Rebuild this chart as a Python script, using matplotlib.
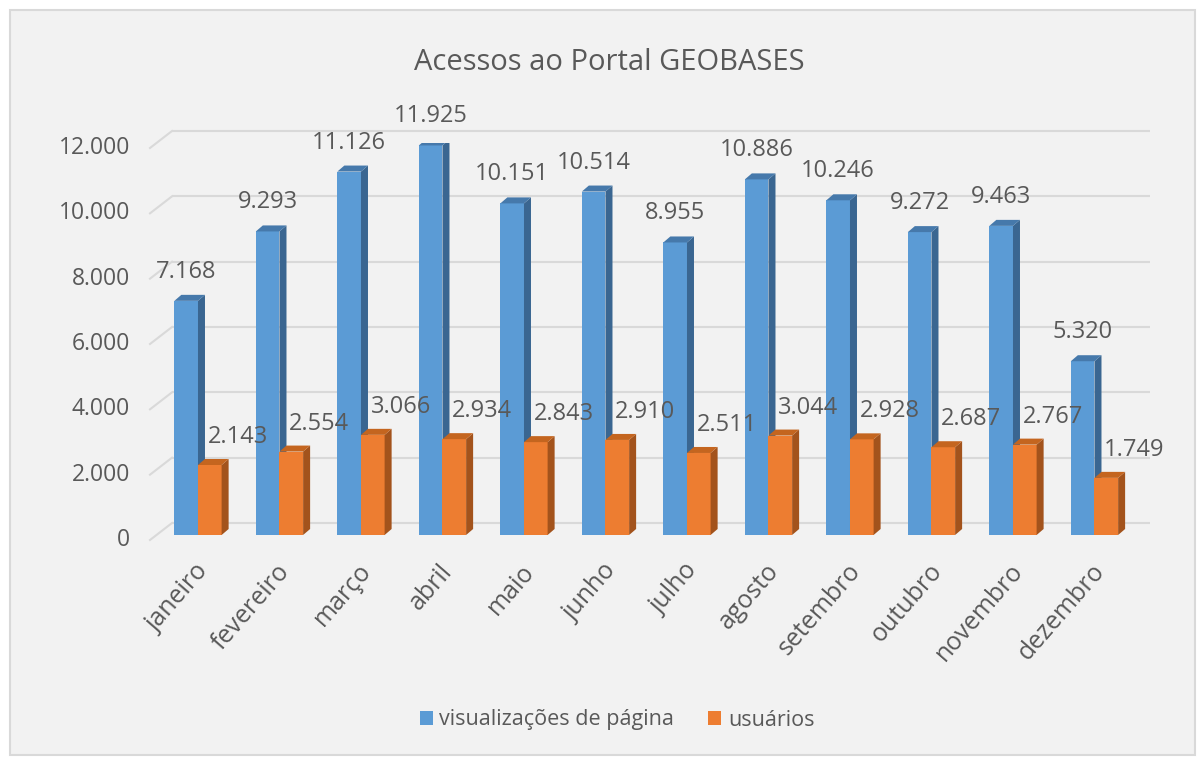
import numpy as np
import matplotlib.pyplot as plt
from matplotlib.patches import Polygon, Patch, Rectangle

plt.rcParams['font.family'] = ['Open Sans', 'DejaVu Sans']

meses = ["janeiro", "fevereiro", "março", "abril", "maio", "junho", "julho",
         "agosto", "setembro", "outubro", "novembro", "dezembro"]
visualizacoes = [7168, 9293, 11126, 11925, 10151, 10514, 8955, 10886, 10246, 9272, 9463, 5320]
usuarios = [2143, 2554, 3066, 2934, 2843, 2910, 2511, 3044, 2928, 2687, 2767, 1749]
yticks = [0, 2000, 4000, 6000, 8000, 10000, 12000]

W, H = 1198, 760
fig = plt.figure(figsize=(W / 100, H / 100), dpi=100, facecolor="white")
fig.patches.append(Rectangle((10 / W, 5 / H), 1185 / W, 745 / H, transform=fig.transFigure,
                             facecolor="#f2f2f2", edgecolor="#d9d9d9", linewidth=1.5, zorder=-5))

# axes = plane of the bar fronts
ax = fig.add_axes([156.5 / W, (H - 535) / H, 978 / W, 392 / H])
ax.set_zorder(2)
ax.set_xlim(-0.509, 11.491)
ax.set_ylim(0, 12000)
ax.axis("off")

px_x = 12 / 978          # data units per pixel
px_y = 12000 / 392
txt = "#595959"

# back wall gridlines + left wall diagonals
bdx, bdy = 15.5 * px_x, 12 * px_y
fdx, fdy = -6.5 * px_x, -5 * px_y
x0, x1 = ax.get_xlim()
for v in yticks:
    ax.plot([x0 + bdx, x1 + bdx], [v + bdy, v + bdy], color="#d9d9d9", lw=1.5,
            zorder=1, clip_on=False, solid_capstyle="butt")
    ax.plot([x0 + fdx, x0 + bdx], [v + fdy, v + bdy], color="#d9d9d9", lw=1.5,
            zorder=1, clip_on=False)
    ax.text(x0 + fdx - 20 * px_x, v + fdy, f"{v:,}".replace(",", "."), ha="right",
            va="center", fontsize=16.5, color=txt)

w = 0.29
ddx, ddy = 7 * px_x, 6 * px_y


def bar3d(xl, v, front, side, top, z):
    ax.add_patch(Rectangle((xl, 0), w, v, facecolor=front, edgecolor="none", zorder=z))
    ax.add_patch(Polygon([(xl + w, 0), (xl + w + ddx, ddy), (xl + w + ddx, v + ddy), (xl + w, v)],
                         closed=True, facecolor=side, edgecolor="none", zorder=z))
    ax.add_patch(Polygon([(xl, v), (xl + ddx, v + ddy), (xl + w + ddx, v + ddy), (xl + w, v)],
                         closed=True, facecolor=top, edgecolor="none", zorder=z))


for i in range(len(meses)):
    z = 3 + i * 2
    bar3d(i - w, visualizacoes[i], "#5b9bd5", "#3a6691", "#4679ab", z)
    bar3d(i, usuarios[i], "#ed7d31", "#a3531c", "#c4651f", z + 1)
    ax.text(i - w / 2, visualizacoes[i] + 23 * px_y, f"{visualizacoes[i]:,}".replace(",", "."),
            ha="center", va="baseline", fontsize=17, color=txt, zorder=50)
    ax.text(i + w / 2 + 28 * px_x, usuarios[i] + 22 * px_y, f"{usuarios[i]:,}".replace(",", "."),
            ha="center", va="baseline", fontsize=17, color=txt, zorder=50)
    ax.text(i - 0.04, -24 * px_y, meses[i], rotation=49, ha="right", va="top",
            rotation_mode="anchor", fontsize=18, color=txt)

fig.text(0.509, 1 - 62 / H, "Acessos ao Portal GEOBASES", ha="center", va="center",
         fontsize=21, color=txt)

handles = [Patch(facecolor="#5b9bd5", label="visualizações de página"),
           Patch(facecolor="#ed7d31", label="usuários")]
fig.legend(handles=handles, loc="center", bbox_to_anchor=(0.515, 1 - 720 / H), ncol=2,
           frameon=False, fontsize=15.5, handlelength=0.6, handleheight=0.6,
           handletextpad=0.3, columnspacing=1.6, labelcolor=txt)

fig.savefig("out.png", dpi=100, facecolor=fig.get_facecolor())
